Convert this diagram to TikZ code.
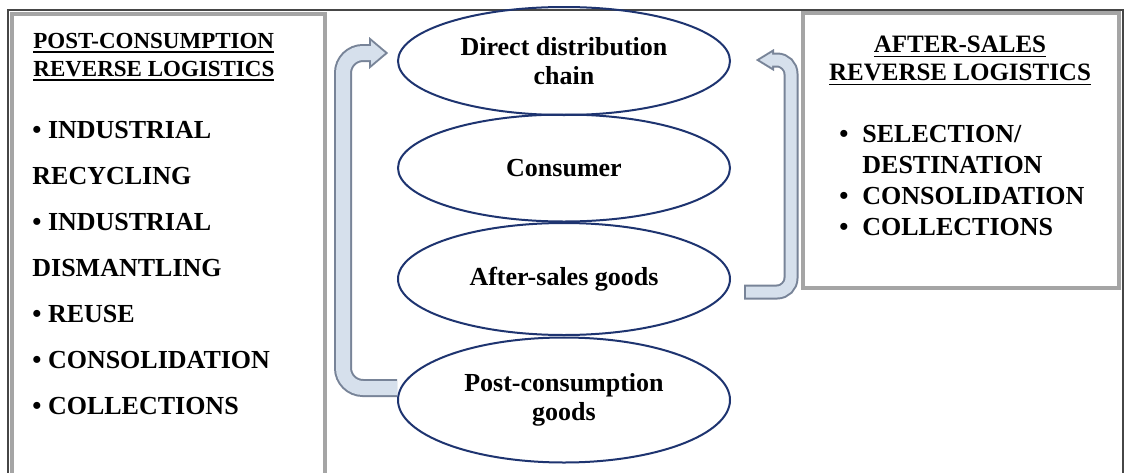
\documentclass[tikz,border=0pt]{standalone}
\usepackage{fontspec}
\setmainfont{Liberation Serif}
\usetikzlibrary{shapes.geometric}
\usetikzlibrary{arrows.meta}
\definecolor{ellblue}{RGB}{30,52,112}
\definecolor{boxgray}{RGB}{165,165,165}
\definecolor{framegray}{RGB}{70,70,70}
\definecolor{flowfill}{RGB}{214,224,236}
\definecolor{flowedge}{RGB}{120,132,152}
\newcommand{\thickul}[1]{\setbox0\hbox{#1}\rlap{\rule[-2.2pt]{\wd0}{0.9pt}}\box0}

\begin{document}
\begin{tikzpicture}[x=0.5pt,y=-0.5pt,
    main node/.style={ellipse,draw=ellblue,line width=1pt,inner sep=0pt,minimum width=166pt,align=center,font=\fontsize{13}{14.5}\selectfont\bfseries},
    side box/.style={draw=boxgray,line width=1.8pt},
    title node/.style={inner sep=0pt,font=\fontsize{#1}{14}\selectfont\bfseries},
    list node/.style={anchor=north west,inner sep=0pt,align=left,font=\fontsize{13}{23}\selectfont\bfseries}]
  \useasboundingbox (0,0) rectangle (1126,472);
  \clip (0,0) rectangle (1126,472);
  \fill[white] (0,0) rectangle (1126,472);
  %frame and the two side boxes
  \draw[framegray,line width=0.6pt] (8,10) rectangle (1123,520);
  \draw[side box] (12,14) rectangle (325,520);
  \draw[side box] (803,13) rectangle (1119,288);

  \node[main node,minimum height=54pt] (direct) at (564,61) {Direct distribution\\chain};
  \node[main node,minimum height=53.5pt] (consumer) at (564,168) {Consumer};
  \node[main node,minimum height=56pt] (after) at (564,279) {After-sales goods};
  \node[main node,minimum height=62.5pt] (post) at (564,400) {Post-consumption\\goods};

  \node[title node=11.5,anchor=north west,align=left] (posttitle) at (33,33) {\thickul{POST-CONSUMPTION}\\\thickul{REVERSE LOGISTICS}};
  \node[list node] (postlist) at (32,121) {\textbullet{} INDUSTRIAL\\RECYCLING\\\textbullet{} INDUSTRIAL\\DISMANTLING\\\textbullet{} REUSE\\\textbullet{} CONSOLIDATION\\\textbullet{} COLLECTIONS};

  \node[title node=12.5,anchor=north,align=center] (aftertitle) at (960,36) {\thickul{AFTER-SALES}\\\thickul{REVERSE LOGISTICS}};
  \node[anchor=north west,inner sep=0pt,font=\fontsize{13}{15.5}\selectfont\bfseries] (afterlist) at (839,120)
    {\begin{tabular}{@{}p{11.5pt}@{}l@{}}\textbullet & SELECTION/\\ & DESTINATION\\ \textbullet & CONSOLIDATION\\ \textbullet & COLLECTIONS\end{tabular}};

  %post-consumption flow back to the chain
  \draw[flowedge,line width=9pt,rounded corners=10pt,-{Triangle[length=9.5pt,width=16pt,line width=0.01pt]}]
    ([shift={(0,-12)}]post.west) -- ++(-54,0) |- ([shift={(-9,-8)}]direct.west);
  \draw[flowfill,line width=7pt,rounded corners=10pt,shorten >=1.56pt,-{Triangle[length=6.9pt,width=11.7pt,line width=0.01pt]}]
    ([shift={(0,-12)}]post.west) -- ++(-54,0) |- ([shift={(-9,-8)}]direct.west);
  %after-sales flow
  \draw[flowedge,line width=7.5pt,rounded corners=7pt,-{Triangle[length=9pt,width=11pt,line width=0.01pt]}]
    ([shift={(13,13)}]after.east) -- ++(47,0) |- ([shift={(25,-1)}]direct.east);
  \draw[flowfill,line width=5.5pt,rounded corners=7pt,shorten <=1pt,shorten >=1.9pt,-{Triangle[length=6.1pt,width=7.4pt,line width=0.01pt]}]
    ([shift={(13,13)}]after.east) -- ++(47,0) |- ([shift={(25,-1)}]direct.east);
\end{tikzpicture}
\end{document}
